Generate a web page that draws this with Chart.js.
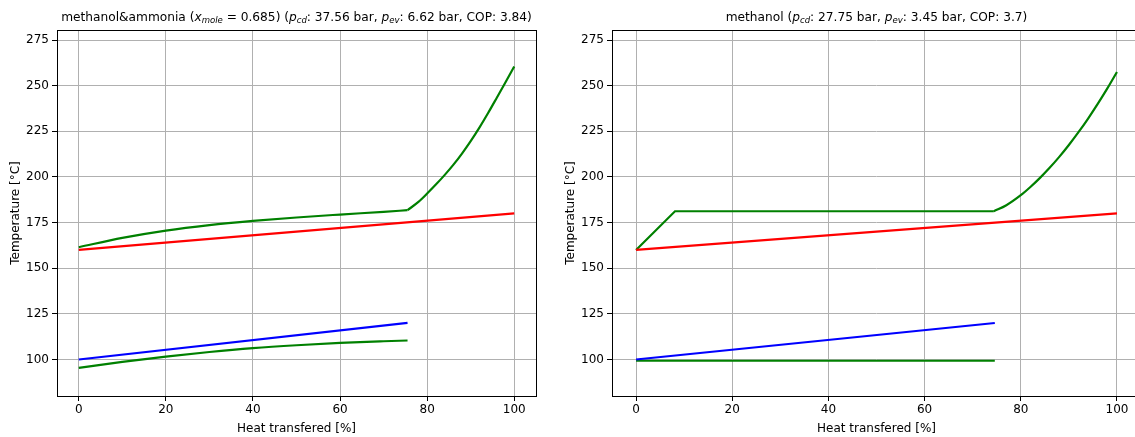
<!DOCTYPE html>
<html>
<head>
<meta charset="utf-8">
<script src="https://cdn.jsdelivr.net/npm/chart.js@4.4.1/dist/chart.umd.min.js"></script>
<style>
    html, body { margin: 0; padding: 0; background: #fff; overflow: hidden; }
    #wrap { position: relative; width: 1135px; height: 437px; overflow: hidden; }
    canvas { position: absolute; top: 0; }
    #left { left: 0; }
    #right { left: 555px; }
</style>
</head>
<body>
<div id="wrap">
    <canvas id="left" width="560" height="437"></canvas>
    <canvas id="right" width="605" height="437"></canvas>
</div>
<script>
    "use strict";

    // ticks shared by both panels
    const xTicks = [0, 20, 40, 60, 80, 100];
    const yTicks = [100, 125, 150, 175, 200, 225, 250, 275];

    // left panel: methanol & ammonia
    const leftRedX = [0, 100];
    const leftRedY = [160, 180];
    const leftBlueX = [0, 75.5];
    const leftBlueY = [100, 120.1];
    const leftEvapX = [0, 10, 20, 30, 40, 50, 60, 70, 75.5];
    const leftEvapY = [95.4, 98.7, 101.6, 104.1, 106.2, 107.8, 109.1, 110.0, 110.4];
    const leftCondX = [0, 10, 20, 30, 40, 50, 60, 70, 75.5];
    const leftCondY = [161.5, 166.6, 170.6, 173.6, 175.9, 177.8, 179.4, 180.9, 181.8];
    const leftSupX = [75.5, 78, 80, 82, 84, 86, 88, 90, 92, 94, 96, 98, 100];
    const leftSupY = [181.8, 186.3, 190.9, 195.8, 201, 206.6, 212.8, 219.6, 227, 235, 243.4, 251.9, 260.5];

    // right panel: methanol
    const rightRedX = [0, 100];
    const rightRedY = [160, 180];
    const rightBlueX = [0, 74.6];
    const rightBlueY = [100, 120];
    const rightEvapX = [0, 74.6];
    const rightEvapY = [99.3, 99.3];
    const rightCondX = [0, 8.1, 74.4];
    const rightCondY = [160, 181.2, 181.2];
    const rightSupX = [74.4, 77, 80, 82, 84, 86, 88, 90, 92, 94, 96, 98, 100];
    const rightSupY = [181.2, 184.5, 190, 194.5, 199.5, 205, 211, 217.5, 224.5, 232, 240, 248.5, 257.5];

    // titles: [text, italic, subscript]
    const leftTitle = [
        ['methanol&ammonia (', false, false], ['x', true, false], ['mole', true, true],
        [' = 0.685) (', false, false], ['p', true, false], ['cd', true, true],
        [': 37.56 bar, ', false, false], ['p', true, false], ['ev', true, true],
        [': 6.62 bar, COP: 3.84)', false, false]
    ];
    const rightTitle = [
        ['methanol (', false, false], ['p', true, false], ['cd', true, true],
        [': 27.75 bar, ', false, false], ['p', true, false], ['ev', true, true],
        [': 3.45 bar, COP: 3.7)', false, false]
    ];

    const FONT = "'DejaVu Sans', sans-serif";

    function pts(xs, ys) {
        return xs.map((x, i) => ({x: x, y: ys[i]}));
    }

    function line(xs, ys, color, curved) {
        return {
            data: pts(xs, ys),
            borderColor: color,
            borderWidth: 2.2,
            pointRadius: 0,
            tension: 0,
            cubicInterpolationMode: curved ? 'monotone' : 'default',
            fill: false
        };
    }

    // axes box + rich title (italic / subscript parts)
    function framePlugin(title) {
        return {
            id: 'frame',
            afterDraw(chart) {
                const ctx = chart.ctx;
                const a = chart.chartArea;
                ctx.save();
                ctx.strokeStyle = '#000';
                ctx.lineWidth = 1;
                ctx.strokeRect(Math.round(a.left) + 0.5, Math.round(a.top) + 0.5,
                    Math.round(a.right - a.left), Math.round(a.bottom - a.top));

                const size = 12.2;
                const fontOf = (s) => (s[1] ? 'italic ' : '') + (s[2] ? size * 0.7 : size) + 'px ' + FONT;
                let total = 0;
                title.forEach(s => { ctx.font = fontOf(s); total += ctx.measureText(s[0]).width; });
                let x = (a.left + a.right) / 2 - total / 2;
                const y = 18;
                ctx.fillStyle = '#000';
                ctx.textBaseline = 'middle';
                ctx.textAlign = 'left';
                title.forEach(s => {
                    ctx.font = fontOf(s);
                    ctx.fillText(s[0], x, s[2] ? y + 3 : y);
                    x += ctx.measureText(s[0]).width;
                });
                ctx.restore();
            }
        };
    }

    function makeChart(id, datasets, title, padRight) {
        const ctx = document.getElementById(id).getContext('2d');
        return new Chart(ctx, {
            type: 'line',
            data: {datasets: datasets},
            options: {
                responsive: false,
                animation: false,
                devicePixelRatio: 1,
                layout: {padding: {top: 30, right: padRight, left: 0, bottom: 0}},
                plugins: {legend: {display: false}, tooltip: {enabled: false}},
                scales: {
                    x: {
                        type: 'linear',
                        min: -5,
                        max: 105,
                        afterBuildTicks: (s) => { s.ticks = xTicks.map(v => ({value: v})); },
                        afterFit: (s) => { s.height = 41; },
                        grid: {color: '#b0b0b0', lineWidth: 1, tickColor: '#000', tickLength: 5},
                        border: {display: false},
                        ticks: {color: '#000', font: {family: FONT, size: 12}, padding: 2, maxRotation: 0},
                        title: {display: true, text: 'Heat transfered [%]', color: '#000',
                            font: {family: FONT, size: 12}, padding: {top: 2, bottom: 1}}
                    },
                    y: {
                        type: 'linear',
                        min: 80,
                        max: 280.5,
                        afterBuildTicks: (s) => { s.ticks = yTicks.map(v => ({value: v})); },
                        afterFit: (s) => { s.width = 57; },
                        grid: {color: '#b0b0b0', lineWidth: 1, tickColor: '#000', tickLength: 5},
                        border: {display: false},
                        ticks: {color: '#000', font: {family: FONT, size: 12}, padding: 3},
                        title: {display: true, text: 'Temperature [°C]', color: '#000',
                            font: {family: FONT, size: 12}, padding: {top: 9, bottom: 2}}
                    }
                }
            },
            plugins: [framePlugin(title)]
        });
    }

    // first dataset is drawn on top, so the green curves go last
    makeChart('left', [
        line(leftRedX, leftRedY, '#ff0000', false),
        line(leftBlueX, leftBlueY, '#0000ff', false),
        line(leftCondX, leftCondY, '#008000', true),
        line(leftSupX, leftSupY, '#008000', true),
        line(leftEvapX, leftEvapY, '#008000', true)
    ], leftTitle, 24);

    makeChart('right', [
        line(rightRedX, rightRedY, '#ff0000', false),
        line(rightBlueX, rightBlueY, '#0000ff', false),
        line(rightCondX, rightCondY, '#008000', false),
        line(rightSupX, rightSupY, '#008000', true),
        line(rightEvapX, rightEvapY, '#008000', false)
    ], rightTitle, 19);
</script>
</body>
</html>
